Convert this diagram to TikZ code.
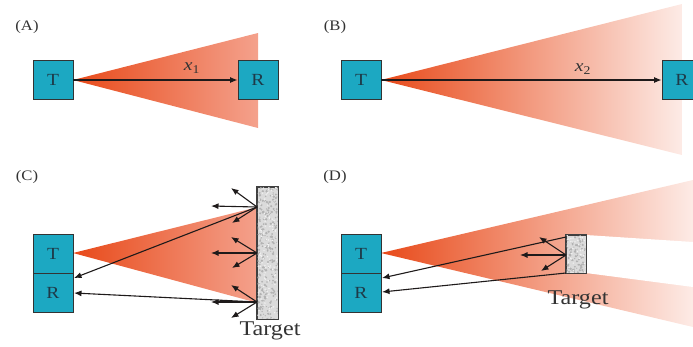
\documentclass[tikz,border=0pt]{standalone}
\usepackage{fontspec}
\setmainfont[FakeStretch=1.15]{Liberation Serif}
\usetikzlibrary{arrows.meta,backgrounds}
\definecolor{boxc}{HTML}{1CA8C2}
\definecolor{boxt}{HTML}{1E3A48}
\definecolor{beamdark}{HTML}{E84A1A}
\definecolor{beammid}{HTML}{F4A18C}
\definecolor{beamfade}{HTML}{FDEBE6}
\definecolor{arrc}{HTML}{1E1A1A}
\definecolor{labc}{HTML}{333333}
\tikzset{
  box/.style={draw=black!80, fill=boxc, minimum width=40pt, minimum height=39pt, inner sep=0pt,
    font=\fontsize{17}{17}\selectfont, text=boxt, line width=0.8pt},
  arr/.style={draw=arrc, line width=1.1pt, -{Latex[length=7.5pt,width=6pt]}},
  plab/.style={font=\fontsize{14.5}{14.5}\selectfont, text=labc},
  tlab/.style={font=\fontsize{21}{21}\selectfont, text=labc},
  xlab/.style={font=\fontsize{17}{17}\selectfont, text=labc},
  tgt/.style={draw=black!75, line width=0.7pt, fill=gray!28, inner sep=0pt}
}
\begin{document}
\begin{tikzpicture}[x=1pt,y=-1pt]
\useasboundingbox (0,0) rectangle (693,346);
\clip (0,0) rectangle (693,346);
\pgfmathsetseed{7}

% ---------- Panel A ----------
\node[plab] (labA) at (27,27) {(A)};
\node[box] (TA) at (53,80) {T};
\node[box] (RA) at (258,80) {R};
\begin{pgfonlayer}{background}
  \shade[left color=beamdark, right color=beammid] (73,80) -- (258,33) -- (258,128) -- cycle;
\end{pgfonlayer}
\draw[arr] (TA) -- (RA);
\node[xlab] (x1) at (192,68) {\textit{x}\textsubscript{1}};

% ---------- Panel B ----------
\node[plab] (labB) at (335,27) {(B)};
\node[box] (TB) at (361,80) {T};
\node[box] (RB) at (682,80) {R};
\begin{pgfonlayer}{background}
  \shade[left color=beamdark, middle color=beammid, right color=beamfade] (381,80) -- (682,4) -- (682,155) -- cycle;
\end{pgfonlayer}
\draw[arr] (TB) -- (RB);
\node[xlab] (x2) at (583,69) {\textit{x}\textsubscript{2}};

% ---------- Panel C ----------
\node[plab] (labC) at (27,177) {(C)};
\node[box] (TC) at (53,253.5) {T};
\node[box] (RC) at (53,292.5) {R};
\begin{pgfonlayer}{background}
  \shade[left color=beamdark, right color=beammid] (73,253) -- (258,207) -- (258,303) -- cycle;
\end{pgfonlayer}
\node[tgt, minimum width=21pt, minimum height=132pt] (tgC) at (267.5,253) {};
\begin{scope}
  \clip (257.5,187.5) rectangle (277.5,318.5);
  \foreach \k in {1,...,260}{
    \pgfmathsetmacro\rx{257+21*rnd}
    \pgfmathsetmacro\ry{187+132*rnd}
    \pgfmathsetmacro\rs{0.5+0.9*rnd}
    \fill[gray!60] (\rx,\ry) circle (\rs);
  }
  \foreach \k in {1,...,120}{
    \pgfmathsetmacro\rx{257+21*rnd}
    \pgfmathsetmacro\ry{187+132*rnd}
    \fill[white!90!gray] (\rx,\ry) circle (0.8);
  }
\end{scope}
\draw[black!75, line width=0.7pt] (tgC.south west) rectangle (tgC.north east);
\coordinate (c1) at (257,207);
\coordinate (c2) at (257,253);
\coordinate (c3) at (257,302);
\coordinate (c1a) at (231,188);
\coordinate (c1b) at (211,206);
\coordinate (c1c) at (232,223);
\coordinate (c2a) at (231,237);
\coordinate (c2b) at (211,253);
\coordinate (c2c) at (232,268);
\coordinate (c3a) at (231,285);
\coordinate (c3b) at (211,302);
\coordinate (c3c) at (231,318);
\foreach \p in {1,2,3}{
  \draw[arr] (c\p) -- (c\p a);
  \draw[arr] (c\p) -- (c\p b);
  \draw[arr] (c\p) -- (c\p c);
}
\coordinate (rc1) at (74,278);
\coordinate (rc2) at (74,293);
\draw[arr] (c1) -- (rc1);
\draw[arr] (c3) -- (rc2);
\node[tlab] (tgCl) at (270,331) {Target};

% ---------- Panel D ----------
\node[plab] (labD) at (335,177) {(D)};
\node[box] (TD) at (361,253.5) {T};
\node[box] (RD) at (361,292.5) {R};
\begin{pgfonlayer}{background}
  \shade[left color=beamdark, middle color=beammid, right color=beamfade] (381,253) -- (693,180) -- (693,327) -- cycle;
  \fill[white] (586,235) -- (693,242) -- (693,287) -- (586,273) -- cycle;
\end{pgfonlayer}
\node[tgt, minimum width=20pt, minimum height=38pt] (tgD) at (576,254) {};
\begin{scope}
  \clip (566.5,235.5) rectangle (585.5,272.5);
  \foreach \k in {1,...,80}{
    \pgfmathsetmacro\rx{566+20*rnd}
    \pgfmathsetmacro\ry{235+38*rnd}
    \pgfmathsetmacro\rs{0.5+0.9*rnd}
    \fill[gray!60] (\rx,\ry) circle (\rs);
  }
  \foreach \k in {1,...,40}{
    \pgfmathsetmacro\rx{566+20*rnd}
    \pgfmathsetmacro\ry{235+38*rnd}
    \fill[white!90!gray] (\rx,\ry) circle (0.8);
  }
\end{scope}
\draw[black!75, line width=0.7pt] (tgD.south west) rectangle (tgD.north east);
\coordinate (d0) at (566,255);
\coordinate (d1) at (566,237);
\coordinate (d3) at (566,273);
\coordinate (da) at (539,237);
\coordinate (db) at (520,255);
\coordinate (dc) at (541,271);
\draw[arr] (d0) -- (da);
\draw[arr] (d0) -- (db);
\draw[arr] (d0) -- (dc);
\coordinate (rd1) at (382,278);
\coordinate (rd2) at (382,292);
\draw[arr] (d1) -- (rd1);
\draw[arr] (d3) -- (rd2);
\node[tlab] (tgDl) at (578,300) {Target};
\end{tikzpicture}
\end{document}
